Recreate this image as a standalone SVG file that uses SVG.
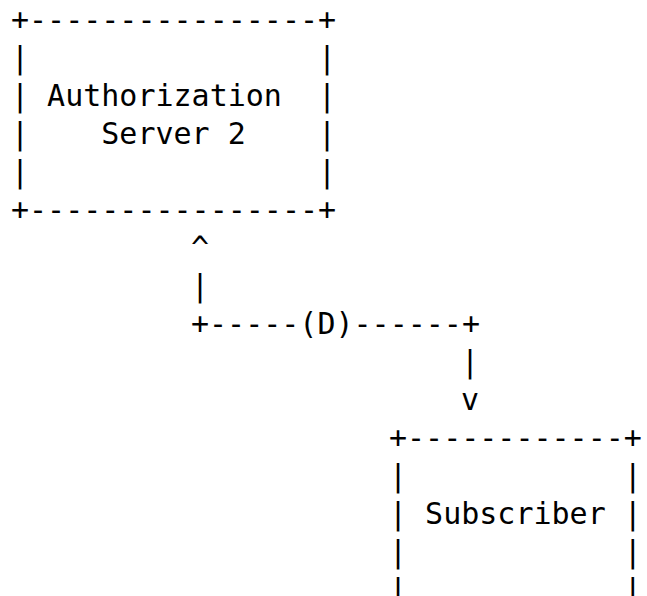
<svg xmlns="http://www.w3.org/2000/svg" width="647" height="596" viewBox="0 0 647 596">
  <style>
    .t { font-family: "DejaVu Sans Mono", "Liberation Mono", monospace; font-size: 30px; fill: #000; white-space: pre; }
  </style>
  <rect width="647" height="596" fill="#fff"/>

  <!-- Authorization Server 2 box -->
  <g id="auth-server-2">
    <text class="t" xml:space="preserve" x="11" y="30">+----------------+</text>
    <text class="t" xml:space="preserve" x="11" y="68">|                |</text>
    <text class="t" xml:space="preserve" x="11" y="106">| Authorization  |</text>
    <text class="t" xml:space="preserve" x="11" y="144">|    Server 2    |</text>
    <text class="t" xml:space="preserve" x="11" y="182">|                |</text>
    <text class="t" xml:space="preserve" x="11" y="220">+----------------+</text>
  </g>

  <!-- Flow (D) from the server down to the subscriber -->
  <g id="connectors">
    <text class="t" xml:space="preserve" x="191" y="258">^</text>
    <text class="t" xml:space="preserve" x="191" y="296">|</text>
    <text class="t" xml:space="preserve" x="191" y="334">+-----(D)------+</text>
    <text class="t" xml:space="preserve" x="461" y="372">|</text>
    <text class="t" xml:space="preserve" x="461" y="410">v</text>
  </g>

  <!-- Subscriber box (open at the bottom edge) -->
  <g id="subscriber">
    <text class="t" xml:space="preserve" x="389" y="448">+------------+</text>
    <text class="t" xml:space="preserve" x="389" y="486">|            |</text>
    <text class="t" xml:space="preserve" x="389" y="524">| Subscriber |</text>
    <text class="t" xml:space="preserve" x="389" y="562">|            |</text>
    <text class="t" xml:space="preserve" x="389" y="600">|            |</text>
  </g>
</svg>
